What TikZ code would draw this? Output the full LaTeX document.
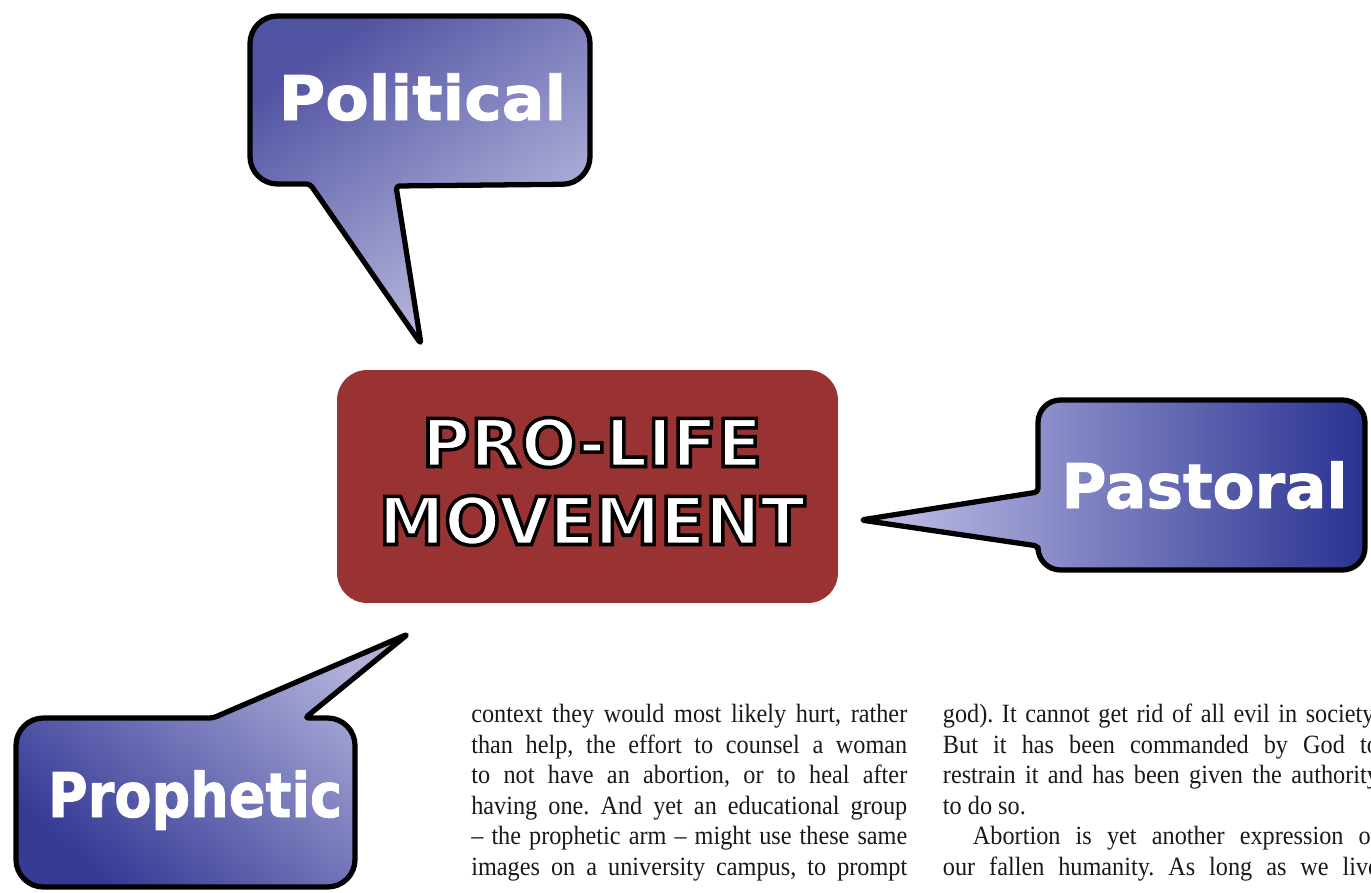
\documentclass[tikz,border=0pt]{standalone}
\usepackage{fontspec}
\setmainfont{Liberation Serif}[FakeStretch=0.92]
\newfontfamily\labelfont{DejaVu Sans}
\newfontfamily\heavyfont{DejaVu Sans Bold}[FakeBold=1.5]
\usetikzlibrary{positioning}

\definecolor{lifered}{RGB}{153,50,51}
\definecolor{poldark}{RGB}{80,82,162}
\definecolor{pollight}{RGB}{196,196,228}
\definecolor{pasdark}{RGB}{42,50,145}
\definecolor{paslight}{RGB}{196,196,234}
\definecolor{prodark}{RGB}{54,59,150}
\definecolor{prolight}{RGB}{176,176,218}

% white letters with a black rim (pdf text render mode 2)
\newcommand{\rimtext}[1]{\special{pdf:literal direct 0 G 2 Tr 2 w}#1\special{pdf:literal direct 0 Tr}}

\begin{document}
\begin{tikzpicture}[
  x=0.02cm,y=-0.02cm,
  callout/.style={draw=black,line width=3pt,line join=round},
  lifebox/.style={fill=lifered,rounded corners=0.6cm,inner sep=0pt,
                  minimum width=10.02cm,minimum height=4.66cm},
  calltext/.style={text=white,anchor=base,inner sep=0pt,
                   font=\heavyfont\fontsize{35}{40}\selectfont},
  bodytext/.style={anchor=north west,inner sep=0pt,text width=8.72cm,
                   align=justify,text=black!90,
                   font=\fontsize{15}{17.36}\selectfont\frenchspacing}]

\useasboundingbox (0,0) rectangle (1371,892);
\clip (0,0) rectangle (1371,892);

% --- the three speech bubbles ---
\draw[callout,top color=poldark,bottom color=pollight,shading angle=35]
  [rounded corners=2pt] (421,344) -- (310,184)
  [rounded corners=0.55cm] -- (250,184) -- (250,16) -- (590,16) -- (590,184)
  [rounded corners=2pt] -- (396,186) -- cycle;

\draw[callout,left color=paslight,right color=pasdark]
  [rounded corners=2pt] (861,520) -- (1038,492)
  [rounded corners=0.45cm] -- (1038,400) -- (1365,400) -- (1365,570) -- (1038,570)
  [rounded corners=2pt] -- (1038,546) -- cycle;

\draw[callout,top color=prolight,bottom color=prodark,shading angle=-40]
  [rounded corners=2pt] (408,634) -- (305,718)
  [rounded corners=0.55cm] -- (355,718) -- (355,887) -- (16,887) -- (16,718)
  [rounded corners=2pt] -- (213,718) -- cycle;

\node[calltext] (political) at (422.5,120) {\scalebox{1.03}[1]{Political}};
\node[calltext] (pastoral)  at (1204.5,508) {Pastoral};
\node[calltext] (prophetic) at (195,817) {\scalebox{0.88}[1]{Prophetic}};

% --- centre box ---
\node[lifebox] (movement) at (587.5,486.5) {};
\node[text=white,inner sep=0pt,align=center,
      font=\labelfont\bfseries\fontsize{37.5}{44.4}\selectfont]
  (movementlabel) at (592,481.5) {\rimtext{PRO-LIFE}\\\rimtext{MOVEMENT}};

% --- running text below ---
\node[bodytext] (colleft) at (471,704)
  {context they would most likely hurt, rather\linebreak
   than help, the effort to counsel a woman\linebreak
   to not have an abortion, or to heal after\linebreak
   having one. And yet an educational group\linebreak
   -- the prophetic arm -- might use these same\linebreak
   images on a university campus, to prompt{\parfillskip=0pt\par}};

\node[bodytext,right=0.7cm of colleft.north east,anchor=north west] (colright)
  {god). It cannot get rid of all evil in society.\linebreak
   But it has been commanded by God to\linebreak
   restrain it and has been given the authority\linebreak
   to do so.\par
   \hspace*{0.6cm}Abortion is yet another expression of\linebreak
   our fallen humanity. As long as we live{\parfillskip=0pt\par}};

\end{tikzpicture}
\end{document}
